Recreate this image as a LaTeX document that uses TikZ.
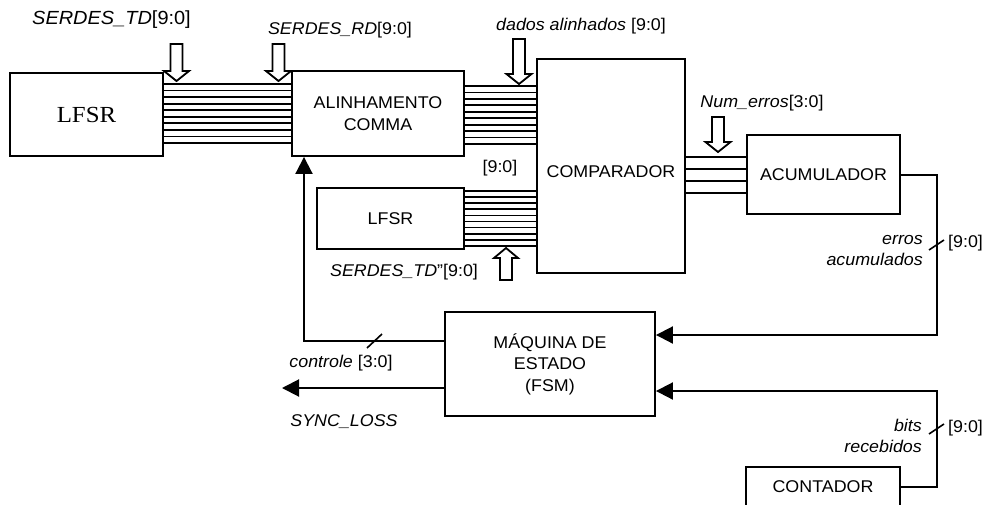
\documentclass[tikz,border=0pt]{standalone}
\usepackage{fontspec}
\setmainfont{Liberation Sans}[FakeStretch=1.05]
\newfontfamily\tnr{Liberation Serif}[FakeStretch=1.08]
\usetikzlibrary{arrows.meta,calc}
\newcommand\hdn[3]{\draw[harrow] (#1-6,#2) -- (#1+6,#2) -- (#1+6,#3-10) -- (#1+12.5,#3-10) -- (#1,#3) -- (#1-12.5,#3-10) -- (#1-6,#3-10) -- cycle;}
\newcommand\hupw[3]{\draw[harrow] (#1-6,#2) -- (#1+6,#2) -- (#1+6,#3+10) -- (#1+12,#3+10) -- (#1,#3) -- (#1-12,#3+10) -- (#1-6,#3+10) -- cycle;}
\begin{document}
\begin{tikzpicture}[x=1pt,y=-1pt,line join=miter,
  box/.style={draw,line width=1.9pt,inner sep=0pt,align=center,font=\fontsize{17}{21.5}\selectfont},
  lab/.style={inner sep=0pt,align=center,font=\fontsize{17}{21}\selectfont},
  bus/.style={line width=1.75pt},
  wire/.style={line width=2pt},
  harrow/.style={draw,line width=1.8pt,fill=white},
  tipa/.style={-{Triangle[length=17pt,width=17pt]}},
  slash/.style={line width=1.6pt}]
\clip (0,0) rectangle (986,504);
% boxes
\node[box,minimum width=153pt,minimum height=83pt,font=\tnr\fontsize{23}{26}\selectfont] (lfsrA) at (86.5,114.5) {LFSR};
\node[box,minimum width=172pt,minimum height=85pt] (alin) at (378,113.5) {ALINHAMENTO\\COMMA};
\node[box,minimum width=148pt,minimum height=214pt] (comp) at (611,166) {};
\node[lab] (compt) at (611,172) {COMPARADOR};
\node[box,minimum width=147pt,minimum height=61pt] (lfsrB) at (390.5,218.5) {LFSR};
\node[box,minimum width=153pt,minimum height=79pt] (acum) at (823.5,174.5) {ACUMULADOR};
\node[box,minimum width=210pt,minimum height=104pt] (fsm) at (550,364) {M\'AQUINA DE\\ESTADO\\(FSM)};
\node[box,minimum width=154pt,minimum height=40pt] (cont) at (823,487) {CONTADOR};
% buses
\foreach \i in {0,...,9}{
  \pgfmathsetmacro\ya{84+\i*6.55}
  \draw[bus] (lfsrA.east |- 0,\ya) -- (alin.west |- 0,\ya);
  \pgfmathsetmacro\yb{86+\i*6.45}
  \draw[bus] (alin.east |- 0,\yb) -- (comp.west |- 0,\yb);
  \pgfmathsetmacro\yc{191+\i*6.1}
  \draw[bus] (lfsrB.east |- 0,\yc) -- (comp.west |- 0,\yc);
}
\foreach \i in {0,...,3}{
  \pgfmathsetmacro\yd{157+\i*12}
  \draw[bus,line width=2pt] (comp.east |- 0,\yd) -- (acum.west |- 0,\yd);
}
% hollow arrows
\hdn{176.5}{44}{81}
\hdn{278.5}{44}{81}
\hdn{519}{39}{84}
\hdn{718}{117}{152}
\hupw{506}{280}{248}
% labels
\node[lab,font=\fontsize{19}{22}\selectfont] (tdlab) at (111.5,20) {\textit{SERDES\_TD}[9:0]};
\node[lab] (rdlab) at (340,30) {\textit{SERDES\_RD}[9:0]};
\node[lab] (dalab) at (581,26) {\textit{dados alinhados} [9:0]};
\node[lab] (numlab) at (762,103) {\textit{Num\_erros}[3:0]};
\node[lab] (b90) at (500,168) {[9:0]};
\node[lab] (tdpp) at (404,272) {\textit{SERDES\_TD}”[9:0]};
\node[lab] (ctl) at (341,363) {\textit{controle} [3:0]};
\node[lab] (sync) at (344,422) {\textit{SYNC\_LOSS}};
\node[lab,anchor=east,align=right] (erl) at (923,250.5) {\textit{erros}\\\textit{acumulados}};
\node[lab,anchor=west] (e90) at (948,243) {[9:0]};
\node[lab,anchor=east,align=right] (bil) at (922,435.5) {\textit{bits}\\\textit{recebidos}};
\node[lab,anchor=west] (b90b) at (948,428) {[9:0]};
% connectors
\coordinate (cc) at (304,341);
\draw[wire,tipa] (fsm.west |- cc) -- (cc) -- (cc |- alin.south);
\coordinate (sy) at (282,388);
\draw[wire,tipa] (fsm.west |- sy) -- (sy);
\coordinate (ac) at (937,335);
\draw[wire,tipa] (acum.east) -- (acum.east -| ac) -- (ac) -- (fsm.east |- ac);
\coordinate (bc) at (937,391);
\draw[wire,tipa] (cont.east) -- (cont.east -| bc) -- (bc) -- (fsm.east |- bc);
% bus-width slashes
\coordinate (s1) at (374.5,341);
\draw[slash] ($(s1)+(-7.5,7)$) -- ($(s1)+(7.5,-7)$);
\coordinate (s2) at (937,245);
\draw[slash] ($(s2)+(-8,5)$) -- ($(s2)+(7,-5)$);
\coordinate (s3) at (937,429);
\draw[slash] ($(s3)+(-8,5)$) -- ($(s3)+(7,-5)$);
\end{tikzpicture}
\end{document}
